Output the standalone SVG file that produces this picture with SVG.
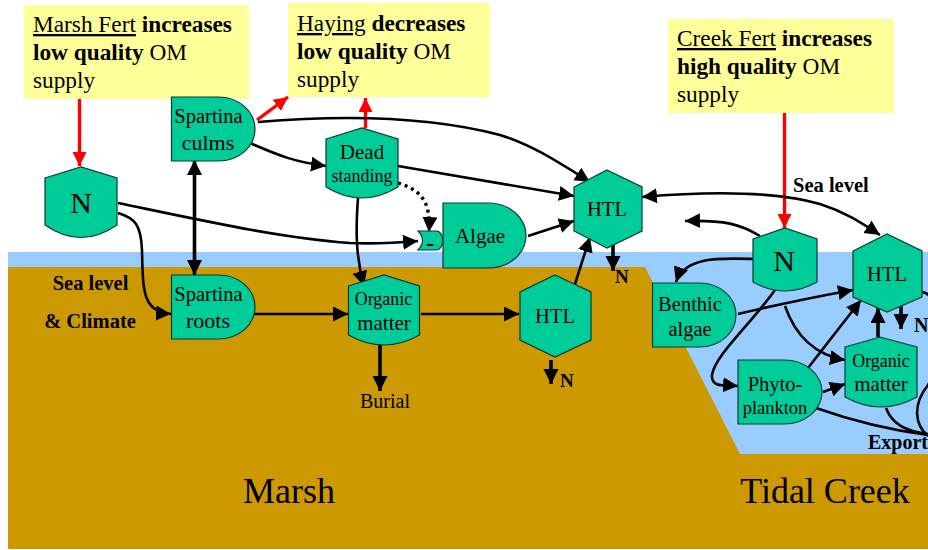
<svg xmlns="http://www.w3.org/2000/svg" width="928" height="550" viewBox="0 0 928 550">
<style>
text{font-family:"Liberation Serif","Times New Roman",serif;fill:#000}
.c{font-size:23.300px}
.b{font-weight:bold}
.m{text-anchor:middle}
.n{fill:#00cc99;stroke:#0b3a33;stroke-width:1.2}
.y{fill:#ffff99}
.k{fill:none;stroke:#000;stroke-width:2.6}
.t{fill:none;stroke:#000;stroke-width:3.6}
.d{fill:none;stroke:#000;stroke-width:3.4;stroke-dasharray:3 4}
.r{fill:none;stroke:#f00;stroke-width:3.4}
</style>
<defs>
<marker id="a" markerUnits="userSpaceOnUse" markerWidth="16" markerHeight="16" refX="15" refY="7.500" orient="auto-start-reverse"><path d="M0 0L15 7.500L0 15Z" fill="#000"/></marker>
<marker id="ar" markerUnits="userSpaceOnUse" markerWidth="16" markerHeight="16" refX="14" refY="7" orient="auto"><path d="M0 0L14 7L0 14Z" fill="#f00"/></marker>
</defs>
<g id="background">
<rect x="8" y="252" width="920" height="16" fill="#99ccff"/>
<rect x="8" y="267" width="920" height="282" fill="#cc9900"/>
<path d="M645 267H928V454H740Z" fill="#99ccff"/>
</g>
<g id="connectors">
<path class="r" d="M79.500 96V166" marker-end="url(#ar)"/>
<path class="r" d="M257 120L288 97" marker-end="url(#ar)"/>
<path class="r" d="M365.500 128V98" marker-end="url(#ar)"/>
<path class="r" d="M784.500 112V228" marker-end="url(#ar)"/>
<path class="t" d="M194.500 160V275" marker-start="url(#a)" marker-end="url(#a)"/>
<path class="k" d="M258 122C330 116 420 114 500 135C530 144 555 160 590 182" marker-end="url(#a)"/>
<path class="k" d="M250 143C280 156 295 162 326 166" marker-end="url(#a)"/>
<path class="k" d="M398 166L574 196" marker-end="url(#a)"/>
<path class="d" d="M398 183C420 190 431 200 429 232" marker-end="url(#a)"/>
<path class="k" d="M358 198C356 225 355 255 364 286" marker-end="url(#a)"/>
<path class="k" d="M118 203C200 220 280 238 350 243C375 244 395 243 418 241" marker-end="url(#a)"/>
<path class="k" d="M118 213C135 218 141 225 142 250C143 290 142 312 171 314" marker-end="url(#a)"/>
<path class="k" d="M250 314H348" marker-end="url(#a)"/>
<path class="t" d="M380 345V391" marker-end="url(#a)"/>
<path class="k" d="M421 314H519" marker-end="url(#a)"/>
<path class="k" d="M528 236L574 221" marker-end="url(#a)"/>
<path class="k" d="M575 284L590 237" marker-end="url(#a)"/>
<path class="t" d="M613 245V271" marker-end="url(#a)"/>
<path class="t" d="M551 360V384" marker-end="url(#a)"/>
<path class="k" d="M642 197C700 192 770 190 820 204C845 212 860 222 880 235" marker-start="url(#a)" marker-end="url(#a)"/>
<path class="k" d="M760 236C740 224 725 220 685 221" marker-end="url(#a)"/>
<path class="k" d="M753 259C720 258 685 256 676 282" marker-end="url(#a)"/>
<path class="k" d="M738 314C780 304 820 296 853 290" marker-end="url(#a)"/>
<path class="k" d="M775 290C750 325 715 355 712 375C711 388 725 385 738 386" marker-end="url(#a)"/>
<path class="k" d="M785 306C795 335 815 355 845 360" marker-end="url(#a)"/>
<path class="k" d="M808 368L861 300" marker-end="url(#a)"/>
<path class="k" d="M823 392L845 384" marker-end="url(#a)"/>
<path class="t" d="M878 337V308" marker-end="url(#a)"/>
<path class="t" d="M901 306V329" marker-end="url(#a)"/>
<path class="k" d="M816 408C850 420 890 430 928 435"/>
<path class="k" d="M886 408C892 424 905 431 928 434"/>
<path class="k" d="M922 292C945 295 945 360 928 385C912 405 915 425 928 436"/>
</g>
<g id="callout-marsh"><rect class="y" x="24" y="5" width="225" height="94"/>
<text class="c" x="33" y="32"><tspan text-decoration="underline">Marsh Fert</tspan> <tspan class="b">increases</tspan></text>
<text class="c" x="33" y="60"><tspan class="b">low quality</tspan> OM</text>
<text class="c" x="33" y="88">supply</text></g>
<g id="callout-haying"><rect class="y" x="288" y="3" width="202" height="94"/>
<text class="c" x="297" y="31"><tspan text-decoration="underline">Haying</tspan> <tspan class="b">decreases</tspan></text>
<text class="c" x="297" y="59"><tspan class="b">low quality</tspan> OM</text>
<text class="c" x="297" y="87">supply</text></g>
<g id="callout-creek"><rect class="y" x="668" y="19" width="226" height="94"/>
<text class="c" x="677" y="46"><tspan text-decoration="underline">Creek Fert</tspan> <tspan class="b">increases</tspan></text>
<text class="c" x="677" y="74"><tspan class="b">high quality</tspan> OM</text>
<text class="c" x="677" y="102">supply</text></g>
<g id="spartina-culms"><path class="n" d="M171.500 97H218C240 97 255 112 255 129C255 146 240 161 218 161H171.500Z"/>
<text class="m" x="208.500" y="123" font-size="20.500">Spartina</text><text class="m" x="208" y="150" font-size="22">culms</text></g>
<g id="spartina-roots"><path class="n" d="M171.500 275H218C240 275 255 290 255 307C255 324 240 339 218 339H171.500Z"/>
<text class="m" x="208.500" y="301" font-size="20.500">Spartina</text><text class="m" x="208" y="328" font-size="22">roots</text></g>
<g id="n-marsh"><path class="n" d="M45 178L81 167L117 178V225Q81 250 45 225Z"/>
<text class="m" x="81" y="213" font-size="30">N</text></g>
<g id="dead-standing"><path class="n" d="M326 139L362 128L398 139V187Q362 209 326 187Z"/>
<text class="m" x="362" y="159" font-size="21">Dead</text><text class="m" x="362" y="182" font-size="18">standing</text></g>
<g id="organic-matter-marsh"><path class="n" d="M348.500 286L384 275L419.500 286V335Q384 355 348.500 335Z"/>
<text class="m" x="383.500" y="305" font-size="18">Organic</text><text class="m" x="384" y="330" font-size="21">matter</text></g>
<g id="limiter"><path class="n" d="M418 231H436C445 231 445 250 436 250H418C424 244 424 237 418 231Z"/>
<text class="m b" x="430" y="251" font-size="24">-</text></g>
<g id="algae"><path class="n" d="M443 203H488C510 203 526 218 526 235.500C526 253 510 268 488 268H443Z"/>
<text class="m" x="480" y="243" font-size="21">Algae</text></g>
<g id="htl-upper"><path class="n" d="M607 170L642 187V231L607 248L574 231V187Z"/>
<text class="m" x="607" y="216" font-size="20.500">HTL</text></g>
<g id="htl-marsh"><path class="n" d="M555 275L591 292V340L555 357L520 340V292Z"/>
<text class="m" x="555" y="323" font-size="20.500">HTL</text></g>
<g id="n-creek"><path class="n" d="M753 239L785 228L817 239V282Q785 300 753 282Z"/>
<text class="m" x="784" y="271" font-size="30">N</text></g>
<g id="htl-creek"><path class="n" d="M853 251L887 234L922 251V297L887 312L853 297Z"/>
<text class="m" x="887" y="281" font-size="20.500">HTL</text></g>
<g id="benthic-algae"><path class="n" d="M652.500 283H699C721 283 736 298 736 315C736 332 721 347 699 347H652.500Z"/>
<text class="m" x="690" y="311" font-size="20.500">Benthic</text><text class="m" x="690" y="336" font-size="20.500">algae</text></g>
<g id="phytoplankton"><path class="n" d="M738 360H784C806 360 822 375 822 392C822 409 806 424 784 424H738Z"/>
<text class="m" x="775" y="391" font-size="20.500">Phyto-</text><text class="m" x="775" y="414" font-size="18.500">plankton</text></g>
<g id="organic-matter-creek"><path class="n" d="M845 347L880 337L917 347V397Q881 417 845 397Z"/>
<text class="m" x="881" y="367" font-size="18">Organic</text><text class="m" x="881" y="391" font-size="21">matter</text></g>
<g id="labels">
<text class="b m" x="90.500" y="290" font-size="20.500">Sea level</text>
<text class="b m" x="90" y="328" font-size="20.500">&amp; Climate</text>
<text class="m" x="385" y="408" font-size="20">Burial</text>
<text class="b" x="615" y="283" font-size="19">N</text>
<text class="b" x="560" y="387" font-size="19">N</text>
<text class="b" x="914" y="332" font-size="20">N</text>
<text class="b" x="793" y="192" font-size="20.500">Sea level</text>
<text class="b" x="868" y="449" font-size="20">Export</text>
<text class="m" x="289" y="503" font-size="36">Marsh</text>
<text class="m" x="825" y="503" font-size="36">Tidal Creek</text>
</g>
</svg>
